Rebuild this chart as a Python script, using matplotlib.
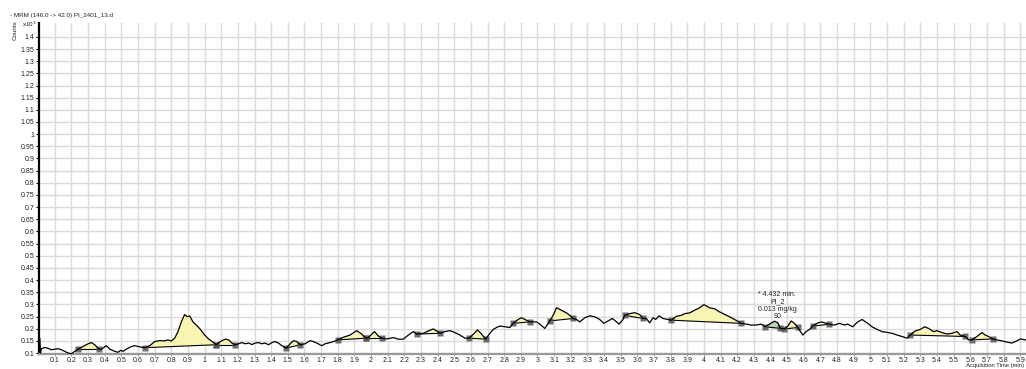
import numpy as np
import matplotlib
matplotlib.use("Agg")
import matplotlib.pyplot as plt
from matplotlib.ticker import FuncFormatter

plt.rcParams['font.family'] = ['Liberation Sans', 'DejaVu Sans']

# Chromatogram trace: acquisition time (min) and counts (x10^3)
time_min = [
    0.010, 0.014, 0.02, 0.04, 0.06, 0.08, 0.10, 0.12, 0.14, 0.16, 0.18, 0.20, 0.22, 0.24,
    0.27, 0.30, 0.32, 0.34, 0.366, 0.38, 0.41, 0.43, 0.46, 0.48, 0.496, 0.51, 0.53, 0.56,
    0.58, 0.60, 0.62, 0.64, 0.67, 0.70, 0.73, 0.76, 0.78, 0.80, 0.82, 0.84, 0.86, 0.88,
    0.896, 0.91, 0.93, 0.95, 0.97, 1.0, 1.024, 1.054, 1.07, 1.094, 1.124, 1.144, 1.164,
    1.184, 1.204, 1.224, 1.244, 1.264, 1.284, 1.304, 1.324, 1.344, 1.364, 1.384, 1.404,
    1.424, 1.444, 1.464, 1.49, 1.514, 1.534, 1.554, 1.574, 1.604, 1.634, 1.654, 1.674,
    1.704, 1.724, 1.754, 1.774, 1.80, 1.834, 1.874, 1.914, 1.944, 1.968, 1.984, 2.02,
    2.044, 2.064, 2.094, 2.134, 2.164, 2.194, 2.224, 2.254, 2.274, 2.314, 2.344, 2.374,
    2.394, 2.414, 2.444, 2.474, 2.504, 2.534, 2.564, 2.588, 2.614, 2.64, 2.664, 2.688,
    2.714, 2.734, 2.754, 2.774, 2.804, 2.834, 2.854, 2.884, 2.904, 2.924, 2.954, 2.994,
    3.014, 3.044, 3.074, 3.094, 3.114, 3.144, 3.174, 3.194, 3.214, 3.234, 3.254, 3.284,
    3.314, 3.344, 3.374, 3.398, 3.424, 3.45, 3.47, 3.49, 3.514, 3.524, 3.554, 3.584,
    3.614, 3.634, 3.654, 3.674, 3.694, 3.71, 3.73, 3.754, 3.784, 3.804, 3.834, 3.864,
    3.884, 3.914, 3.944, 3.974, 4.0, 4.034, 4.064, 4.094, 4.124, 4.154, 4.184, 4.224,
    4.254, 4.284, 4.314, 4.344, 4.368, 4.394, 4.424, 4.444, 4.46, 4.484, 4.504, 4.524,
    4.544, 4.564, 4.58, 4.594, 4.614, 4.634, 4.654, 4.684, 4.708, 4.734, 4.754, 4.784,
    4.814, 4.844, 4.864, 4.894, 4.924, 4.95, 4.98, 5.01, 5.04, 5.07, 5.10, 5.13, 5.16,
    5.19, 5.22, 5.24, 5.27, 5.30, 5.326, 5.35, 5.38, 5.40, 5.43, 5.46, 5.49, 5.52, 5.54,
    5.57, 5.59, 5.61, 5.64, 5.67, 5.69, 5.71, 5.734, 5.76, 5.79, 5.82, 5.85, 5.88, 5.90,
    5.935,
]
counts = [
    0.161, 0.100, 0.118, 0.123, 0.119, 0.1135, 0.116, 0.1176, 0.1135, 0.107, 0.100, 0.097,
    0.107, 0.116, 0.127, 0.138, 0.143, 0.134, 0.116, 0.116, 0.130, 0.116, 0.107, 0.103,
    0.111, 0.107, 0.116, 0.127, 0.130, 0.127, 0.124, 0.122, 0.130, 0.147, 0.151, 0.150,
    0.154, 0.149, 0.161, 0.188, 0.228, 0.258, 0.249, 0.253, 0.228, 0.215, 0.201, 0.174,
    0.158, 0.143, 0.134, 0.147, 0.157, 0.154, 0.141, 0.134, 0.138, 0.143, 0.138, 0.141,
    0.135, 0.141, 0.143, 0.138, 0.141, 0.134, 0.143, 0.147, 0.141, 0.130, 0.120, 0.138,
    0.151, 0.147, 0.134, 0.138, 0.151, 0.147, 0.141, 0.130, 0.138, 0.143, 0.147, 0.154,
    0.165, 0.174, 0.192, 0.178, 0.161, 0.1635, 0.188, 0.170, 0.161, 0.158, 0.1635, 0.157,
    0.157, 0.174, 0.188, 0.178, 0.181, 0.191, 0.199, 0.191, 0.181, 0.188, 0.192, 0.184,
    0.174, 0.161, 0.161, 0.177, 0.195, 0.178, 0.157, 0.181, 0.197, 0.205, 0.211, 0.208,
    0.205, 0.222, 0.238, 0.245, 0.238, 0.228, 0.228, 0.219, 0.201, 0.232, 0.255, 0.286,
    0.276, 0.265, 0.255, 0.242, 0.238, 0.228, 0.245, 0.253, 0.249, 0.238, 0.222, 0.232,
    0.242, 0.231, 0.219, 0.238, 0.255, 0.262, 0.266, 0.258, 0.242, 0.242, 0.224, 0.245,
    0.238, 0.253, 0.242, 0.238, 0.235, 0.251, 0.255, 0.262, 0.265, 0.276, 0.286, 0.299,
    0.286, 0.282, 0.269, 0.259, 0.249, 0.238, 0.222, 0.219, 0.215, 0.215, 0.219, 0.208,
    0.219, 0.231, 0.224, 0.201, 0.199, 0.211, 0.232, 0.222, 0.205, 0.188, 0.174, 0.188,
    0.197, 0.211, 0.224, 0.228, 0.222, 0.218, 0.215, 0.222, 0.215, 0.219, 0.208, 0.228,
    0.238, 0.224, 0.208, 0.197, 0.188, 0.185, 0.181, 0.174, 0.168, 0.161, 0.174, 0.191,
    0.197, 0.208, 0.201, 0.188, 0.192, 0.184, 0.178, 0.181, 0.188, 0.174, 0.168, 0.154,
    0.154, 0.168, 0.184, 0.174, 0.168, 0.158, 0.154, 0.150, 0.145, 0.141, 0.150, 0.158,
    0.154,
]

# Integrated peak windows (start, end) in minutes
peak_windows = [
    (0.24, 0.366), (0.64, 1.07), (1.07, 1.184), (1.49, 1.574), (1.80, 1.968),
    (1.968, 2.064), (2.274, 2.414), (2.588, 2.688), (2.854, 2.954), (3.074, 3.214),
    (3.524, 3.634), (3.804, 4.224), (4.368, 4.46), (4.484, 4.564), (4.654, 4.754),
    (5.24, 5.57), (5.61, 5.734),
]
identified_peak = 12  # index of the named compound peak
peak_label = "* 4.432 min.\nPI_2\n0.013 mg/kg\n90"
label_pos = (4.44, 0.236)

title = "- MRM (146.0 -> 42.0) PI_2401_13.d"
x_ticks = [round(0.1 * i, 1) for i in range(1, 60)]
y_ticks = [round(0.05 * i, 2) for i in range(2, 29)]

t = np.array(time_min)
c = np.array(counts)

fig = plt.figure(figsize=(10.26, 3.69), dpi=100)
ax = fig.add_axes([39 / 1026, 15 / 369, 987 / 1026, 331 / 369])

ax.set_xlim(0.005, 5.935)
ax.set_ylim(0.096, 1.457)

ax.set_xticks(x_ticks)
ax.set_yticks(y_ticks)
fmt = FuncFormatter(lambda v, p: f"{v:g}")
ax.xaxis.set_major_formatter(fmt)
ax.yaxis.set_major_formatter(fmt)
ax.tick_params(axis='both', labelsize=5, colors='#222222', pad=1)
ax.tick_params(axis='y', length=2.5, width=0.8, color='black')
ax.tick_params(axis='x', length=1.5, width=0.6, color='#888888', pad=0.5)

ax.grid(True, color='#dadada', linewidth=1.0)
ax.set_axisbelow(True)
for s in ('top', 'right'):
    ax.spines[s].set_visible(False)
ax.spines['left'].set_color('black')
ax.spines['left'].set_linewidth(1.6)
ax.spines['bottom'].set_color('#9a9a9a')
ax.spines['bottom'].set_linewidth(1.6)

# Peak areas between trace and baseline
for i, (ts, te) in enumerate(peak_windows):
    cs = np.interp(ts, t, c)
    ce = np.interp(te, t, c)
    inside = (t > ts) & (t < te)
    tt = np.concatenate([[ts], t[inside], [te]])
    cc = np.concatenate([[cs], c[inside], [ce]])
    base = np.interp(tt, [ts, te], [cs, ce])
    face = '#b9d5b3' if i == identified_peak else '#f8f4b4'
    ax.fill_between(tt, base, cc, where=cc >= base, interpolate=True,
                    facecolor=face, edgecolor='none', zorder=2)
    ax.plot([ts, te], [cs, ce], color='black', lw=0.8, zorder=3)
    ax.plot([ts, te], [cs, ce], linestyle='none', marker='s', markersize=4,
            markerfacecolor='#555555', markeredgecolor='none', alpha=0.85, zorder=4)

ax.plot(t, c, color='black', lw=0.9, zorder=5)

ax.text(label_pos[0], label_pos[1], peak_label, ha='center', va='bottom',
        fontsize=5, color='#222222', linespacing=1.05, zorder=6)

fig.text(10 / 1026, 1 - 15 / 369, title, fontsize=4.5, color='#222222', va='center', ha='left')
fig.text(15 / 1026, 1 - 30 / 369, "Counts", fontsize=4.5, rotation=90, color='#222222',
         va='center', ha='center')
fig.text(22 / 1026, 1 - 24 / 369, r"x10$^{3}$", fontsize=4.5, color='#222222',
         va='center', ha='left')
fig.text(1024 / 1026, 0.8 / 369, "Acquisition Time (min)", fontsize=4.2, color='#222222',
         va='bottom', ha='right')

fig.savefig("out.png", dpi=100)
